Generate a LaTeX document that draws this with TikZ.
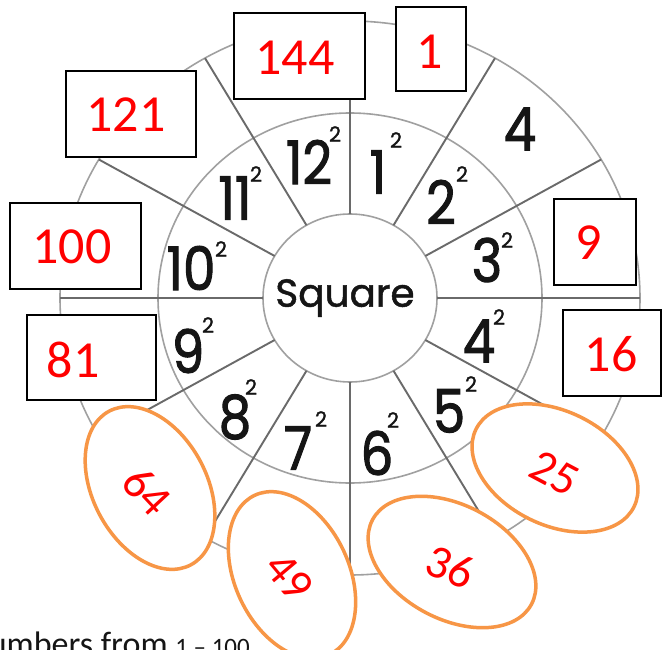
\documentclass[tikz,border=0pt]{standalone}
\usepackage{tikz}
\usepackage{fontspec}
\setmainfont{Carlito}
\newfontfamily\comicdig[FakeStretch=0.86,FakeBold=1.6]{Poppins}
\newfontfamily\comicsup[FakeBold=1.2]{Poppins}
\newfontfamily\comicword[FakeBold=1.2]{Poppins}
\usetikzlibrary{shapes.geometric}
\definecolor{ringgray}{HTML}{A0A0A0}
\definecolor{spokegray}{HTML}{6A6A6A}
\definecolor{numblack}{HTML}{151515}
\definecolor{ovalorange}{HTML}{F79646}
\begin{document}
\begin{tikzpicture}[x=1pt,y=-1pt,
  ring/.style={draw=ringgray, line width=1.6pt},
  spoke/.style={draw=spokegray, line width=1.9pt},
  answerbox/.style={draw=black, line width=1.2pt, fill=white, inner sep=0pt},
  rednum/.style={text=red, font=\fontsize{52}{52}\selectfont, inner sep=0pt},
  oval/.style={ellipse, draw=ovalorange, line width=3.5pt, fill=white, inner sep=0pt},
  ovalnum/.style={text=red, font=\fontsize{47}{47}\selectfont, inner sep=0pt},
  basenum/.style={text=numblack, font=\comicdig\fontsize{60}{60}\selectfont, inner sep=0pt},
  supnum/.style={text=numblack, font=\comicsup\fontsize{21}{21}\selectfont, inner sep=0pt},
]
\useasboundingbox (0,0) rectangle (662,650);
\fill[white] (0,0) rectangle (662,650);
\clip (0,0) rectangle (662,650);

% wheel
\draw[ring] (350,298) ellipse [x radius=290, y radius=277];
\draw[ring] (350,298) ellipse [x radius=192, y radius=185];
\draw[ring] (350,298) ellipse [x radius=87, y radius=84];
\foreach \a in {0,30,...,330}
  \draw[spoke] ({350+87*cos(\a)},{298-84*sin(\a)}) -- ({350+290*cos(\a)},{298-277*sin(\a)});

\node[text=numblack, font=\comicword\fontsize{39}{39}\selectfont, inner sep=0pt] (sq) at (345,298) {Square};

% base numbers with exponent
\node[basenum] (n1)  at (378,172) {1};   \node[supnum] (s1)  at (396,140) {2};
\node[basenum] (n2)  at (441,202) {2};   \node[supnum] (s2)  at (462,174) {2};
\node[basenum] (n3)  at (487,260) {3};   \node[supnum] (s3)  at (507,240) {2};
\node[basenum] (n4)  at (479,341) {4};   \node[supnum] (s4)  at (499,317) {2};
\node[basenum] (n5)  at (449,411) {5};   \node[supnum] (s5)  at (471,384) {2};
\node[basenum] (n6)  at (377,453) {6};   \node[supnum] (s6)  at (393,420) {2};
\node[basenum] (n7)  at (298,448) {7};   \node[supnum] (s7)  at (321,419) {2};
\node[basenum] (n8)  at (235,417) {8};   \node[supnum] (s8)  at (251,387) {2};
\node[basenum] (n9)  at (188,351) {9};   \node[supnum] (s9)  at (208,325) {2};
\node[basenum] (n10) at (191,268) {10};  \node[supnum] (s10) at (221,249) {2};
\node[basenum] (n11) at (235,198) {11};  \node[supnum] (s11) at (256,174) {2};
\node[basenum] (n12) at (309,162) {12};  \node[supnum] (s12) at (335,134) {2};
\node[basenum] (a4)  at (520,129) {4};

% answer boxes
\node[answerbox, minimum width=131, minimum height=86] (b144) at (299.5,56) {};
\node[rednum] (t144) at (295,58) {144};
\node[answerbox, minimum width=70, minimum height=84] (b1) at (431,49) {};
\node[rednum] (t1) at (430,52) {1};
\node[answerbox, minimum width=130, minimum height=86] (b121) at (131,114) {};
\node[rednum] (t121) at (126,115) {121};
\node[answerbox, minimum width=131, minimum height=86] (b100) at (75.5,246) {};
\node[rednum] (t100) at (72,247) {100};
\node[answerbox, minimum width=82, minimum height=86] (b9) at (595,242) {};
\node[rednum] (t9) at (589,243) {9};
\node[answerbox, minimum width=129, minimum height=85] (b81) at (91.5,357.5) {};
\node[rednum] (t81) at (73,360) {81};
\node[answerbox, minimum width=98, minimum height=86] (b16) at (612,353) {};
\node[rednum] (t16) at (611,354) {16};

% answer ovals
\node[oval, minimum width=174, minimum height=114, rotate=-62] (e64) at (150,488) {};
\node[ovalnum, rotate=-47] (t64) at (147,491) {64};
\node[oval, minimum width=176, minimum height=114, rotate=-65] (e49) at (292,575) {};
\node[ovalnum, rotate=-50] (t49) at (289,577) {49};
\node[oval, minimum width=180, minimum height=114, rotate=-28] (e36) at (452,562) {};
\node[ovalnum, rotate=-22] (t36) at (450,567) {36};
\node[oval, minimum width=176, minimum height=114, rotate=-26] (e25) at (555,468) {};
\node[ovalnum, rotate=-28] (t25) at (555,473) {25};

% bottom caption (cut off)
\node[anchor=base east, text=numblack, font=\fontsize{34}{34}\selectfont, inner sep=0pt] (cap) at (250,655) {numbers from {\fontsize{25}{25}\selectfont 1 – 100}};
\end{tikzpicture}
\end{document}
